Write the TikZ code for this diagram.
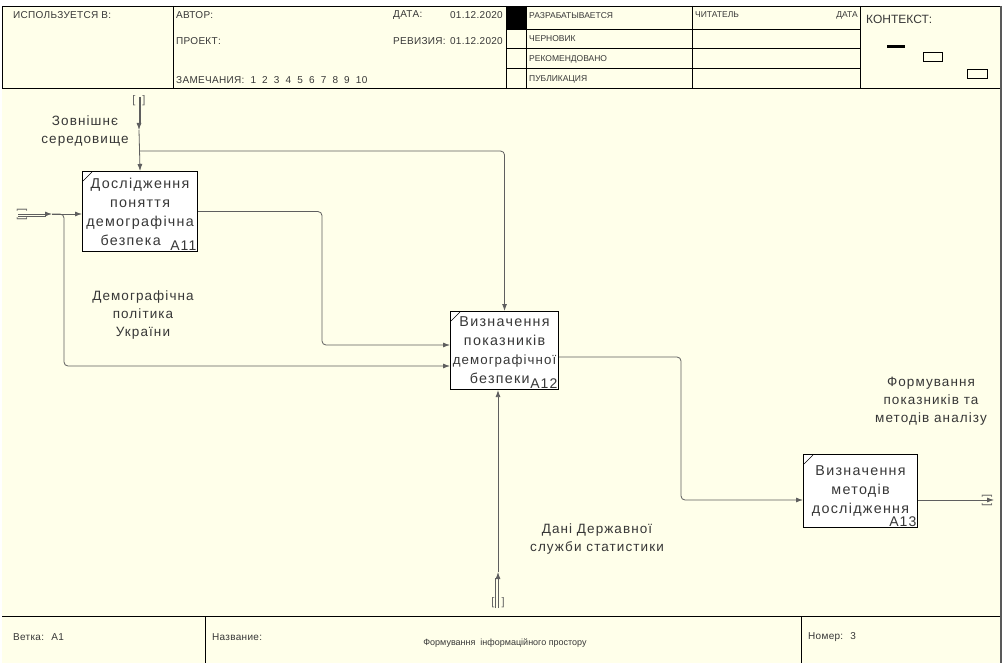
\documentclass[tikz,border=0pt]{standalone}
\usepackage{fontspec}
\setmainfont{Liberation Sans}
\newfontfamily\spacedfont[LetterSpace=8]{Liberation Sans}
\newfontfamily\boxfont[LetterSpace=9]{Liberation Sans}
\newfontfamily\hdrfont[LetterSpace=3]{Liberation Sans}
\usetikzlibrary{positioning,arrows.meta,calc}
\definecolor{sheetcolor}{RGB}{255,255,234}
\definecolor{flowcolor}{RGB}{95,95,95}
\definecolor{labelcolor}{RGB}{55,55,55}
\tikzset{
  act box/.style={
    rectangle,
    draw=black,
    line width=1.1pt,
    fill=white,
    anchor=north west,
    inner sep=0pt,
    align=center,
    text=labelcolor,
    font=\boxfont\fontsize{14.3}{19}\selectfont
  },
  act id/.style={
    anchor=south east,
    inner sep=1.5pt,
    text=labelcolor,
    font=\spacedfont\fontsize{14}{14}\selectfont
  },
  flow label/.style={
    align=center,
    text=labelcolor,
    font=\spacedfont\fontsize{13.5}{18}\selectfont
  },
  hdr/.style={
    anchor=west,
    inner sep=0pt,
    text=labelcolor,
    font=\hdrfont\fontsize{10}{12}\selectfont
  },
  hdr small/.style={
    hdr,
    font=\fontsize{8.5}{10}\selectfont
  },
  tunnel mark/.style={
    inner sep=0pt,
    text=flowcolor,
    font=\fontsize{11}{11}\selectfont
  },
  arrow/.style={
    -{Latex[length=7pt,width=5pt]},
    draw=flowcolor,
    line width=0.8pt,
    rounded corners=4pt
  },
  tunnel/.style={
    draw=flowcolor,
    line width=0.7pt
  }
}

\begin{document}
\begin{tikzpicture}[x=1pt,y=-1pt]

  \useasboundingbox (0,0) rectangle (1004,663);
  \fill[sheetcolor] (2,6) rectangle (1000,663);

  % Header
  \draw[line width=0.8pt] (2,6) rectangle (1000,88);
  \foreach \x in {173,506,526,692,860} {
    \draw[line width=0.8pt] (\x,6) -- (\x,88);
  }
  \foreach \y in {29,48,68} {
    \draw[line width=0.8pt] (506,\y) -- (860,\y);
  }
  \fill[black] (506,6) rectangle (526,29);
  \node[hdr] (usedat) at (13,15) {ИСПОЛЬЗУЕТСЯ В:};
  \node[hdr] (author) at (176,15) {АВТОР:};
  \node[hdr] (project) at (176,41) {ПРОЕКТ:};
  \node[hdr] (notes) at (176,80) {ЗАМЕЧАНИЯ: \ 1 \ 2 \ 3 \ 4 \ 5 \ 6 \ 7 \ 8 \ 9 \ 10};
  \node[hdr] (date) at (393,15) {ДАТА:};
  \node[hdr, anchor=east] (dateval) at (503,15) {01.12.2020};
  \node[hdr] (rev) at (393,41) {РЕВИЗИЯ:};
  \node[hdr, anchor=east] (revval) at (503,41) {01.12.2020};
  \node[hdr small] (working) at (529,16) {РАЗРАБАТЫВАЕТСЯ};
  \node[hdr small] (draft) at (529,39) {ЧЕРНОВИК};
  \node[hdr small] (recom) at (529,59) {РЕКОМЕНДОВАНО};
  \node[hdr small] (publ) at (529,79) {ПУБЛИКАЦИЯ};
  \node[hdr small] (reader) at (695,15) {ЧИТАТЕЛЬ};
  \node[hdr small, anchor=east] (rdate) at (858,15) {ДАТА};
  \node[hdr, font=\fontsize{12}{14}\selectfont] (context) at (866,19) {КОНТЕКСТ:};
  \fill[black] (887,45) rectangle (905,48);
  \draw[line width=0.7pt] (923,52) rectangle (942,61);
  \draw[line width=0.7pt] (967,69) rectangle (987,78);

  % Footer
  \draw[line width=0.8pt] (2,616) -- (1000,616);
  \draw[line width=0.8pt] (205,616) -- (205,663);
  \draw[line width=0.8pt] (801,616) -- (801,663);
  \node[hdr] (branch) at (13,637) {Ветка: \ A1};
  \node[hdr] (title) at (212,637) {Название:};
  \node[hdr, anchor=center, font=\fontsize{9}{11}\selectfont] (titletext) at (505,643) {Формування \ інформаційного простору};
  \node[hdr] (number) at (808,637) {Номер: \ 3};
  \draw[line width=2.5pt, draw=gray!70!black] (1001,6) -- (1001,663);

  % Activities
  \node[act box, minimum width=115pt, minimum height=80pt] (A11) at (82,171)
    {Дослідження\\поняття\\демографічна\\безпека\phantom{A1}};
  \node[act box, minimum width=108pt, minimum height=78pt] (A12) at (450,311)
    {Визначення\\показників\\\makebox[96pt]{\spacedfont\fontsize{13.3}{19}\selectfont демографічної}\\безпеки\phantom{A}};
  \node[act box, minimum width=114pt, minimum height=73pt] (A13) at (803,454)
    {Визначення\\методів\\дослідження};
  \node[act id] (A11id) at (A11.south east) {A11};
  \node[act id] (A12id) at (A12.south east) {A12};
  \node[act id] (A13id) at (A13.south east) {A13};
  \foreach \b in {A11,A12,A13} {
    \draw[line width=0.6pt] ($(\b.north west)+(1,10)$) -- ($(\b.north west)+(10,1)$);
  }

  % Tunnel ends and bends
  \coordinate (envtop) at (139,97);
  \coordinate (envtip) at (139,130);
  \coordinate (envsplit) at (139,151);
  \coordinate (intop) at (18,214);
  \coordinate (intip) at (52,214);
  \coordinate (policy) at (64,366);
  \coordinate (bend1) at (322,345);
  \coordinate (bend2) at (681,357);
  \coordinate (a13in) at (803,500);
  \coordinate (outtip) at (994,500);
  \coordinate (datatop) at (498,572);
  \coordinate (databot) at (498,608);

  \node[tunnel mark] (envmark) at (139,101) {[\hspace{7pt}]};
  \node[tunnel mark, rotate=90] (inmark) at (22,214) {[\hspace{6pt}]};
  \node[tunnel mark, rotate=90] (outmark) at (987,500) {[\hspace{6pt}]};
  \node[tunnel mark] (datamark) at (498,603) {[\hspace{7pt}]};

  % Connectors
  \draw[tunnel] ($(envtop)+(1.3,0)$) -- ($(envtip)+(1.3,-6)$);
  \draw[arrow] (envtop) -- (envtip);
  \draw[arrow] (envtip) -- (A11.north |- A11.north);
  \draw[arrow] (envsplit) -- (A12.north |- envsplit) -- (A12.north);
  \draw[tunnel] ($(intop)+(0,2.3)$) -- ($(intip)+(-6,2.3)$);
  \draw[arrow] (intop) -- (intip);
  \draw[arrow] (intip) -- (A11.west |- intip);
  \draw[arrow] (intip) -| (policy) -- (A12.west |- policy);
  \draw[arrow] (A11.east) -| (bend1) -- (A12.west |- bend1);
  \draw[arrow] (A12.east |- bend2) -- (bend2) |- (a13in);
  \draw[arrow] (A13.east |- outtip) -- (outtip);
  \draw[tunnel] ($(databot)+(-2.3,0)$) -- ($(datatop)+(-2.3,6)$);
  \draw[arrow] (databot) -- (datatop);
  \draw[arrow] (datatop) -- (A12.south -| datatop);

  % Arrow labels
  \node[flow label] (envlabel) at (85,131) {Зовнішнє\\середовище};
  \node[flow label] (policylabel) at (143,315) {Демографічна\\політика\\України};
  \node[flow label] (datalabel) at (597,539) {Дані Державної\\служби статистики};
  \node[flow label] (resultlabel) at (931,401) {Формування\\показників та\\методів аналізу};

\end{tikzpicture}
\end{document}
